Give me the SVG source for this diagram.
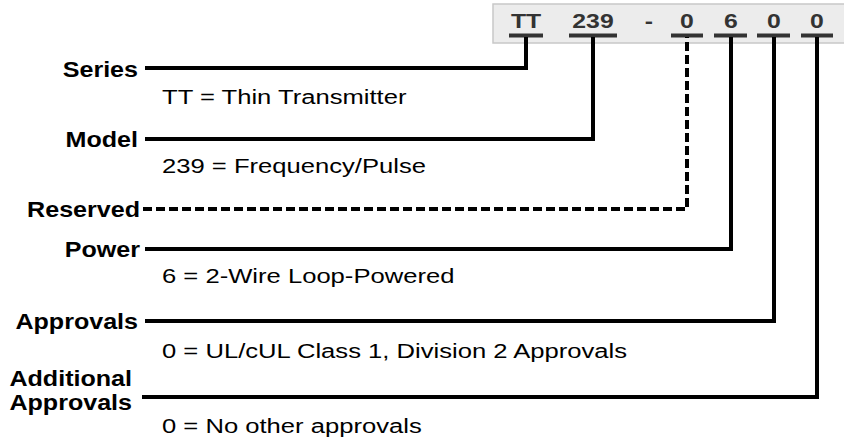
<svg xmlns="http://www.w3.org/2000/svg" width="844" height="441" viewBox="0 0 844 441">
<style>
.hdr{font-family:"Liberation Sans",Arial,sans-serif;font-weight:bold;font-size:21px;fill:#333;text-anchor:middle}
.lbl{font-family:"Liberation Sans",Arial,sans-serif;font-weight:bold;font-size:22px;fill:#000;text-anchor:end}
.desc{font-family:"Liberation Sans",Arial,sans-serif;font-size:21px;fill:#000}
.ul{stroke:#333;stroke-width:4;fill:none}
.con{stroke:#000;stroke-width:4;fill:none;stroke-linejoin:miter}
.dash{stroke-dasharray:9,4}
</style>
<rect width="844" height="441" fill="#fff"/>
<g id="code">
<rect x="493" y="4" width="352" height="39" fill="#ececec" stroke="#c8c8c8" stroke-width="1.5"/>
<text class="hdr" transform="translate(526,28) scale(1.18,1)">TT</text>
<text class="hdr" transform="translate(593,28) scale(1.18,1)">239</text>
<text class="hdr" transform="translate(649,28) scale(1.18,1)">-</text>
<text class="hdr" transform="translate(687,28) scale(1.18,1)">0</text>
<text class="hdr" transform="translate(731,28) scale(1.18,1)">6</text>
<text class="hdr" transform="translate(774,28) scale(1.18,1)">0</text>
<text class="hdr" transform="translate(817,28) scale(1.18,1)">0</text>
<path class="ul" d="M509,35.5H543M569,35.5H617M671,35.5H703M714,35.5H747M757,35.5H790M801,35.5H833"/>
</g>
<g id="series">
<text class="lbl" transform="translate(138,77) scale(1.14,1)">Series</text>
<text class="desc" transform="translate(162,104) scale(1.22,1)">TT = Thin Transmitter</text>
</g>
<g id="model">
<text class="lbl" transform="translate(138,147) scale(1.14,1)">Model</text>
<text class="desc" transform="translate(162,173) scale(1.22,1)">239 = Frequency/Pulse</text>
</g>
<g id="reserved">
<text class="lbl" transform="translate(140,217) scale(1.14,1)">Reserved</text>
</g>
<g id="power">
<text class="lbl" transform="translate(140,257) scale(1.14,1)">Power</text>
<text class="desc" transform="translate(162,283) scale(1.22,1)">6 = 2-Wire Loop-Powered</text>
</g>
<g id="approvals">
<text class="lbl" transform="translate(138,329) scale(1.14,1)">Approvals</text>
<text class="desc" transform="translate(162,358) scale(1.22,1)">0 = UL/cUL Class 1, Division 2 Approvals</text>
</g>
<g id="additional">
<text class="lbl" transform="translate(132,386) scale(1.14,1)">Additional</text>
<text class="lbl" transform="translate(132,410) scale(1.14,1)">Approvals</text>
<text class="desc" transform="translate(162,433) scale(1.22,1)">0 = No other approvals</text>
</g>
<g id="connectors">
<path class="con" d="M145,68H526V37"/>
<path class="con" d="M145,139H593V37"/>
<path class="con dash" d="M143,209H687V37"/>
<path class="con" d="M145,249H731V37"/>
<path class="con" d="M145,321H774V37"/>
<path class="con" d="M142,397H817V37"/>
</g>
</svg>
